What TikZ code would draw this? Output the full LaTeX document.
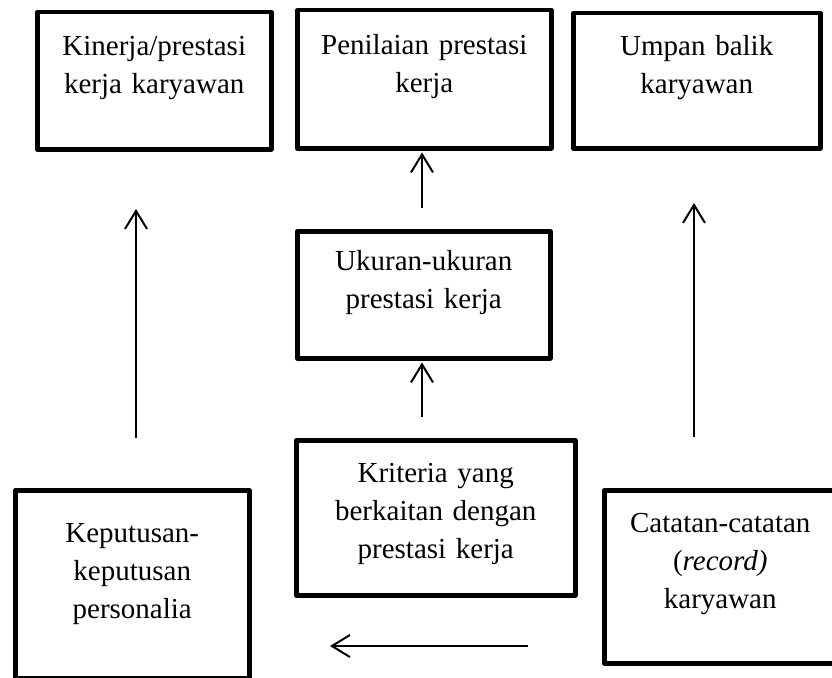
\documentclass[tikz,border=0pt]{standalone}
\usepackage{fontspec}
\setmainfont{Liberation Serif}
\usetikzlibrary{arrows.meta}
\begin{document}
\begin{tikzpicture}[x=1pt,y=-1pt,
  box/.style={draw, line width=4.5pt, line join=round, inner sep=0pt,
    anchor=north west, align=center, font=\fontsize{29}{38}\selectfont},
  arr/.style={line width=2pt, -{Straight Barb[length=18pt,width=22pt,line width=2pt]}}]
\useasboundingbox (0,0) rectangle (832,677);
\node[box, text width=234pt, text height=43pt, text depth=94pt] (kin) at (35,10) {Kinerja/prestasi\\kerja karyawan};
\node[box, text width=254pt, text height=44pt, text depth=94pt] (pen) at (295,8) {Penilaian prestasi\\kerja};
\node[box, text width=247pt, text height=42pt, text depth=93pt] (ump) at (571,11) {Umpan balik\\karyawan};
\node[box, text width=253pt, text height=39pt, text depth=88pt] (uku) at (295,229) {Ukuran-ukuran\\prestasi kerja};
\node[box, text width=279pt, text height=42pt, text depth=113pt] (kri) at (294,438) {Kriteria yang\\berkaitan dengan\\prestasi kerja};
\node[box, text width=234pt, text height=52pt, text depth=136pt] (kep) at (13,488) {Keputusan-\\keputusan\\personalia};
\node[box, text width=232pt, text height=42pt, text depth=131pt] (cat) at (602,488) {Catatan-catatan\\(\textit{record)}\\karyawan};
\coordinate (l1) at (136,438);
\coordinate (l2) at (136,209);
\coordinate (r1) at (694,437);
\coordinate (r2) at (694,203);
\coordinate (h1) at (528,646);
\coordinate (h2) at (330,646);
\draw[arr, shorten <=21pt, shorten >=2pt] (uku.north -| 422,0) -- (pen.south -| 422,0);
\draw[arr, shorten <=21pt, shorten >=2pt] (kri.north -| 422,0) -- (uku.south -| 422,0);
\draw[arr] (l1) -- (l2);
\draw[arr] (r1) -- (r2);
\draw[arr] (h1) -- (h2);
\end{tikzpicture}
\end{document}
